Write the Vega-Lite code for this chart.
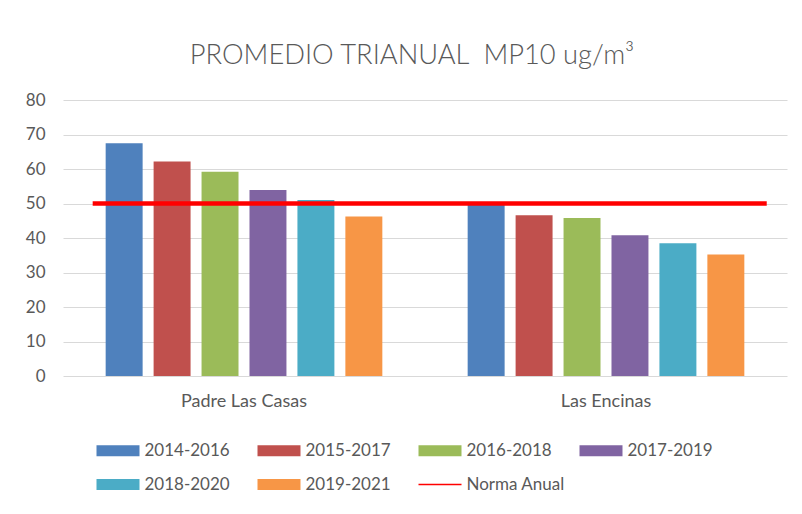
{
  "$schema": "https://vega.github.io/schema/vega-lite/v6.json",
  "autosize": {"type": "none"},
  "width": 724,
  "height": 276,
  "padding": {"left": 63, "top": 100, "right": 15, "bottom": 138},
  "background": "white",
  "title": {
    "text": "PROMEDIO TRIANUAL\u00a0 MP10 ug/m³",
    "font": "Lato",
    "fontSize": 27.3,
    "fontWeight": 300,
    "color": "#595959",
    "anchor": "middle",
    "dx": -13,
    "offset": 22
  },
  "config": {
    "view": {"stroke": null},
    "font": "Lato"
  },
  "resolve": {"scale": {"x": "independent"}, "axis": {"x": "independent"}},
  "layer": [
    {
      "data": {
        "values": [
          {"station": "Padre Las Casas", "period": "2014-2016", "value": 67.5},
          {"station": "Padre Las Casas", "period": "2015-2017", "value": 62.2},
          {"station": "Padre Las Casas", "period": "2016-2018", "value": 59.2},
          {"station": "Padre Las Casas", "period": "2017-2019", "value": 53.9},
          {"station": "Padre Las Casas", "period": "2018-2020", "value": 51.0},
          {"station": "Padre Las Casas", "period": "2019-2021", "value": 46.2},
          {"station": "Las Encinas", "period": "2014-2016", "value": 50.3},
          {"station": "Las Encinas", "period": "2015-2017", "value": 46.6},
          {"station": "Las Encinas", "period": "2016-2018", "value": 45.8},
          {"station": "Las Encinas", "period": "2017-2019", "value": 40.8},
          {"station": "Las Encinas", "period": "2018-2020", "value": 38.5},
          {"station": "Las Encinas", "period": "2019-2021", "value": 35.2}
        ]
      },
      "mark": {"type": "bar"},
      "encoding": {
        "x": {
          "field": "station",
          "type": "nominal",
          "sort": ["Padre Las Casas", "Las Encinas"],
          "scale": {"paddingInner": 0, "paddingOuter": 0},
          "axis": {
            "title": null,
            "labelAngle": 0,
            "labelFontSize": 18,
            "labelColor": "#595959",
            "labelPadding": 16,
            "ticks": false,
            "domain": false
          }
        },
        "xOffset": {
          "field": "period",
          "type": "nominal",
          "scale": {"paddingInner": 0.229, "paddingOuter": 0.89}
        },
        "y": {
          "field": "value",
          "type": "quantitative",
          "scale": {"domain": [0, 80], "nice": false},
          "axis": {
            "title": null,
            "values": [0, 10, 20, 30, 40, 50, 60, 70, 80],
            "labelOverlap": false,
            "labelFontSize": 17,
            "labelColor": "#595959",
            "labelPadding": 18,
            "ticks": false,
            "domain": false,
            "gridColor": "#d9d9d9",
            "gridWidth": 1
          }
        },
        "color": {
          "field": "period",
          "type": "nominal",
          "scale": {
            "domain": ["2014-2016", "2015-2017", "2016-2018", "2017-2019", "2018-2020", "2019-2021", "Norma Anual"],
            "range": ["#4F81BD", "#C0504D", "#9BBB59", "#8064A2", "#4BACC6", "#F79646", "#FF0000"]
          },
          "legend": {
            "title": null,
            "orient": "none",
            "legendX": 46.5,
            "legendY": 342,
            "direction": "horizontal",
            "columns": 4,
            "gridAlign": "all",
            "columnPadding": 14,
            "rowPadding": 16,
            "padding": 0,
            "labelFontSize": 17,
            "labelColor": "#595959",
            "labelOffset": 18,
            "symbolSize": 121,
            "symbolStrokeWidth": 0,
            "encode": {
              "symbols": {
                "update": {
                  "shape": [
                    {"test": "datum.value === 'Norma Anual'", "value": "M-3.909,-0.12H3.909V0.12H-3.909Z"},
                    {"value": "M-3.909,-1H3.909V1H-3.909Z"}
                  ]
                }
              }
            }
          }
        }
      }
    },
    {
      "data": {"values": [{"serie": "Norma Anual", "norma": 50, "start": 0.041, "end": 0.972}]},
      "mark": {"type": "rule", "color": "#FF0000", "strokeWidth": 4.5},
      "encoding": {
        "x": {"field": "start", "type": "quantitative", "scale": {"domain": [0, 1], "nice": false}, "axis": null},
        "x2": {"field": "end"},
        "y": {
          "field": "norma",
          "type": "quantitative",
          "axis": {
            "title": null,
            "values": [0, 10, 20, 30, 40, 50, 60, 70, 80],
            "labelOverlap": false,
            "labelFontSize": 17,
            "labelColor": "#595959",
            "labelPadding": 18,
            "ticks": false,
            "domain": false,
            "gridColor": "#d9d9d9",
            "gridWidth": 1
          }
        }
      }
    }
  ]
}
